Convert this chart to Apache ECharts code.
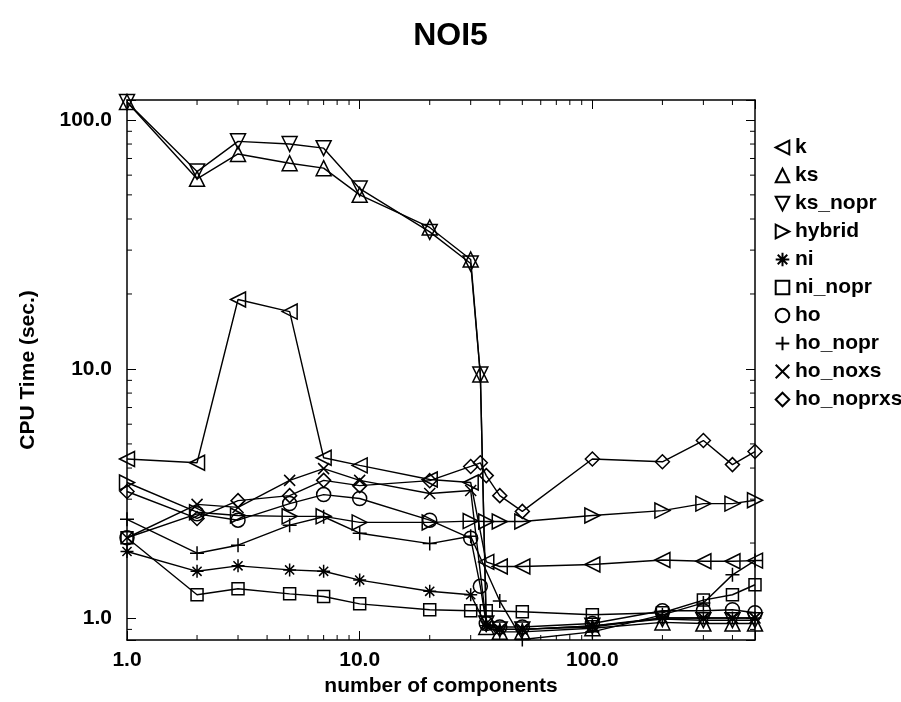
<!DOCTYPE html>
<html>
<head>
<meta charset="utf-8">
<script src="https://cdn.jsdelivr.net/npm/echarts@6/dist/echarts.min.js"></script>
<style>
  html, body { margin: 0; padding: 0; background: #fff; }
  #chart { width: 901px; height: 702px; }
</style>
</head>
<body>
<div id="chart"></div>
<script>
// number of components (x), shared by all series; null = no point there
var xs = [1, 2, 3, 5, 7, 10, 20, 30, 33, 35, 40, 50, 100, 200, 300, 400, 500];

var k_times         = [4.35, 4.2, 19.0, 17.0, 4.4, 4.1, 3.6, 3.5, null, 1.68, 1.61, 1.61, 1.64, 1.71, 1.69, 1.69, 1.70];
var ks_times        = [118, 58, 73, 67, 64, 50, 37, 27.5, 9.5, 0.92, 0.88, 0.88, 0.91, 0.96, 0.95, 0.95, 0.95];
var ks_nopr_times   = [118, 62, 82, 80, 77, 53, 35.5, 26.5, 9.5, 0.95, 0.9, 0.9, 0.93, 0.99, 0.98, 0.98, 0.98];
var hybrid_times    = [3.5, 2.66, 2.58, 2.56, 2.56, 2.42, 2.42, 2.45, null, 2.44, 2.44, 2.44, 2.58, 2.70, 2.88, 2.88, 2.97];
var ni_times        = [1.85, 1.54, 1.62, 1.56, 1.54, 1.42, 1.28, 1.24, null, 0.93, 0.9, 0.9, 0.93, 1.0, 1.0, 1.0, 1.0];
var ni_nopr_times   = [2.1, 1.24, 1.31, 1.25, 1.22, 1.14, 1.08, 1.07, null, 1.07, null, 1.06, 1.03, 1.05, 1.18, 1.24, 1.36];
var ho_times        = [2.1, 2.62, 2.47, 2.88, 3.13, 3.02, 2.47, 2.09, 1.34, 0.95, 0.92, 0.92, 0.95, 1.07, 1.07, 1.08, 1.05];
var ho_nopr_times   = [2.49, 1.82, 1.96, 2.36, 2.55, 2.19, 1.99, 2.13, null, null, 1.17, 0.82, 0.88, 1.03, 1.15, 1.49, 1.70];
var ho_noxs_times   = [2.1, 2.86, 2.78, 3.57, 3.98, 3.57, 3.16, 3.25, null, 0.95, 0.9, 0.9, 0.92, 1.0, 1.0, 1.0, 1.0];
var ho_noprxs_times = [3.22, 2.51, 2.96, 3.1, 3.57, 3.4, 3.56, 4.06, 4.2, 3.73, 3.1, 2.68, 4.35, 4.24, 5.16, 4.13, 4.66];

// minor tick positions of the two log axes
var x_minor = [2, 3, 4, 5, 6, 7, 8, 9, 20, 30, 40, 50, 60, 70, 80, 90, 200, 300, 400];
var y_minor = [0.9, 2, 3, 4, 5, 6, 7, 8, 9, 20, 30, 40, 50, 60, 70, 80, 90];

var X_MIN = 1, X_MAX = 500;
var Y_MIN = 0.816, Y_MAX = 120.2;

var FONT = "'Liberation Sans', Arial, Helvetica, sans-serif";

// symbols: gnuplot style point types
var PLUS = 'path://M10,0L10,20M0,10L20,10';
var CROSS = 'path://M0,0L20,20M20,0L0,20';
var STAR = 'path://M10,0L10,20M0,10L20,10M3,3L17,17M17,3L3,17';

function pairs(ys) {
    var out = [];
    for (var i = 0; i < xs.length; i++) {
        if (ys[i] !== null) out.push([xs[i], ys[i]]);
    }
    return out;
}

function line_series(name, ys, symbol, size, rotate) {
    return {
        name: name,
        type: 'line',
        data: pairs(ys),
        symbol: symbol,
        symbolSize: size,
        symbolRotate: rotate || 0,
        showAllSymbol: true,
        animation: false,
        lineStyle: { color: '#000', width: 1.4 },
        itemStyle: { color: 'rgba(0,0,0,0)', borderColor: '#000', borderWidth: 1.5 },
        emphasis: { disabled: true }
    };
}

function log_label(v) {
    var l = Math.log10(v);
    return Math.abs(l - Math.round(l)) < 1e-6 ? v.toFixed(1) : '';
}

var chart = echarts.init(document.getElementById('chart'));

var series = [
    line_series('k', k_times, 'triangle', 15, 90),
    line_series('ks', ks_times, 'triangle', 15, 0),
    line_series('ks_nopr', ks_nopr_times, 'triangle', 15, 180),
    line_series('hybrid', hybrid_times, 'triangle', 15, -90),
    line_series('ni', ni_times, STAR, 13),
    line_series('ni_nopr', ni_nopr_times, 'rect', 12),
    line_series('ho', ho_times, 'circle', 14),
    line_series('ho_nopr', ho_nopr_times, PLUS, 14),
    line_series('ho_noxs', ho_noxs_times, CROSS, 11),
    line_series('ho_noprxs', ho_noprxs_times, 'diamond', 14)
];

// minor ticks on all four sides, placed through the axes' own scales
series.push({
    type: 'custom',
    silent: true,
    animation: false,
    clip: false,
    data: y_minor.map(function (v) { return [X_MIN, v]; }),
    renderItem: function (params, api) {
        var v = api.value(1);
        var pl = api.coord([X_MIN, v]);
        var pr = api.coord([X_MAX, v]);
        return { type: 'group', children: [
            { type: 'line', shape: { x1: pl[0], y1: pl[1], x2: pl[0] + 5, y2: pl[1] }, style: { stroke: '#000', lineWidth: 1 } },
            { type: 'line', shape: { x1: pr[0], y1: pr[1], x2: pr[0] - 5, y2: pr[1] }, style: { stroke: '#000', lineWidth: 1 } }
        ]};
    }
});
series.push({
    type: 'custom',
    silent: true,
    animation: false,
    clip: false,
    data: x_minor.map(function (v) { return [v, Y_MIN]; }),
    renderItem: function (params, api) {
        var v = api.value(0);
        var pb = api.coord([v, Y_MIN]);
        var pt = api.coord([v, Y_MAX]);
        return { type: 'group', children: [
            { type: 'line', shape: { x1: pb[0], y1: pb[1], x2: pb[0], y2: pb[1] - 5 }, style: { stroke: '#000', lineWidth: 1 } },
            { type: 'line', shape: { x1: pt[0], y1: pt[1], x2: pt[0], y2: pt[1] + 5 }, style: { stroke: '#000', lineWidth: 1 } }
        ]};
    }
});

var axis_common = {
    type: 'log',
    logBase: 10,
    splitLine: { show: false },
    axisLine: { show: true, onZero: false, lineStyle: { color: '#000', width: 1.5 } },
    axisTick: { show: true, inside: true, length: 9, lineStyle: { color: '#000', width: 1 } }
};

var label_text = { fontFamily: FONT, fontSize: 21, fontWeight: 'bold', color: '#000' };

chart.setOption({
    backgroundColor: '#fff',
    animation: false,
    title: {
        text: 'NOI5',
        left: 'center',
        top: 15,
        textStyle: { fontFamily: FONT, fontSize: 32, fontWeight: 'bold', color: '#000' }
    },
    grid: { left: 127, right: 146, top: 100, bottom: 60 },
    legend: {
        orient: 'vertical',
        left: 768,
        top: 132,
        itemWidth: 17,
        itemHeight: 17,
        itemGap: 7,
        selectedMode: false,
        lineStyle: { opacity: 0 },
        textStyle: { fontFamily: FONT, fontSize: 21, fontWeight: 'bold', color: '#000', padding: [0, 0, 0, -1] },
        data: ['k', 'ks', 'ks_nopr', 'hybrid', 'ni', 'ni_nopr', 'ho', 'ho_nopr', 'ho_noxs', 'ho_noprxs']
    },
    xAxis: [
        Object.assign({}, axis_common, {
            position: 'bottom',
            min: X_MIN, max: X_MAX,
            name: 'number of components',
            nameLocation: 'middle',
            nameGap: 36,
            nameTextStyle: label_text,
            axisLabel: Object.assign({ show: true, margin: 10, formatter: log_label }, label_text)
        }),
        Object.assign({}, axis_common, {
            position: 'top',
            min: X_MIN, max: X_MAX,
            axisLabel: { show: false }
        })
    ],
    yAxis: [
        Object.assign({}, axis_common, {
            position: 'left',
            min: Y_MIN, max: Y_MAX,
            name: 'CPU Time (sec.)',
            nameLocation: 'middle',
            nameGap: 88,
            nameTextStyle: label_text,
            axisLabel: Object.assign({ show: true, margin: 15, formatter: log_label }, label_text)
        }),
        Object.assign({}, axis_common, {
            position: 'right',
            min: Y_MIN, max: Y_MAX,
            axisLabel: { show: false }
        })
    ],
    series: series
});
</script>
</body>
</html>
